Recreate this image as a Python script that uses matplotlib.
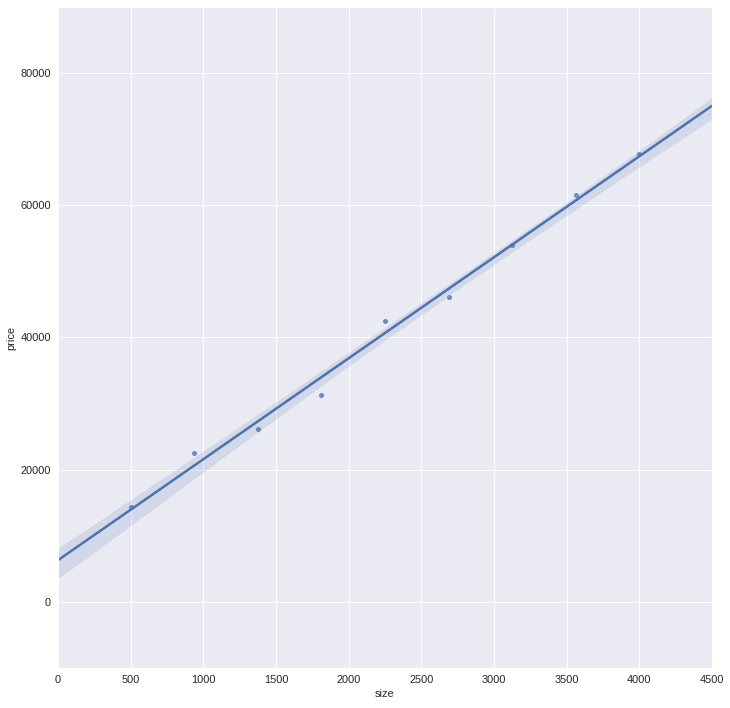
import matplotlib
matplotlib.use("Agg")
import matplotlib.pyplot as plt
import seaborn as sns
import pandas as pd

size = [500, 937, 1375, 1812, 2250, 2687, 3125, 3562, 4000]
price = [14300, 22500, 26200, 31300, 42500, 46100, 54000, 61500, 67700]

sns.set_theme(style="darkgrid")
plt.rcParams['font.family'] = ['Liberation Sans', 'DejaVu Sans']
plt.rcParams['xtick.labelsize'] = 11
plt.rcParams['ytick.labelsize'] = 11
plt.rcParams['axes.labelsize'] = 11
plt.rcParams['xtick.color'] = '#262626'
plt.rcParams['ytick.color'] = '#262626'

df = pd.DataFrame({"size": size, "price": price})

fig = plt.figure(figsize=(730 / 72, 708 / 72), dpi=72)
ax = fig.add_axes([58 / 730, 40 / 708, 654 / 730, 661 / 708])
ax.set_xlim(0, 4500)
ax.set_ylim(-10000, 90000)
sns.regplot(data=df, x="size", y="price", ax=ax, truncate=False, seed=0,
            color="#4C72B0", scatter_kws=dict(s=25, alpha=0.8, linewidths=0),
            line_kws=dict(lw=2.5))
ax.set_xlim(0, 4500)
ax.set_ylim(-10000, 90000)
ax.set_xticks(range(0, 4501, 500))
ax.set_yticks([0, 20000, 40000, 60000, 80000])
ax.set_xlabel("size")
ax.set_ylabel("price")
ax.tick_params(length=0, pad=7)
fig.savefig("out.png", dpi=72)
